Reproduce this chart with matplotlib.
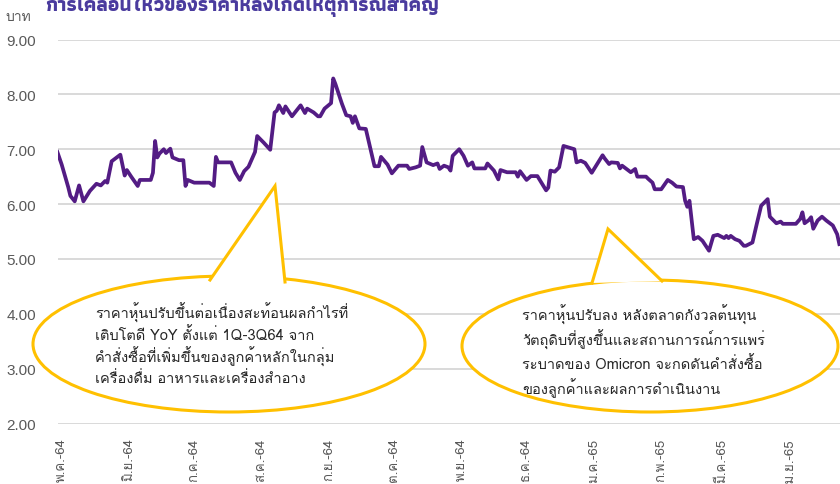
import numpy as np
import pandas as pd
import matplotlib
matplotlib.use('agg')
import matplotlib.pyplot as plt
from matplotlib.patches import Ellipse, Polygon

# data (days since 1 May 2021, price in baht)
day = [-2, 0, 3, 4, 6, 8, 10, 13, 16, 18, 20, 21, 23, 27, 29, 30, 32, 35, 36, 41,
       42, 43, 44, 45, 47, 48, 50, 51, 54, 56, 57, 58, 61, 68, 70, 71, 72, 78, 80, 82,
       84, 86, 89, 90, 93, 96, 98, 99, 100, 102, 103, 106, 110, 112, 113, 116, 118, 119, 121, 124,
       125, 126, 129, 131, 133, 134, 135, 137, 140, 144, 146, 147, 150, 152, 155, 159, 160, 163, 165, 166,
       168, 171, 173, 174, 176, 178, 179, 180, 183, 185, 187, 189, 190, 195, 196, 199, 201, 202, 205, 209,
       210, 211, 214, 216, 219, 223, 224, 225, 227, 229, 231, 236, 237, 239, 241, 244, 249, 250, 252, 253,
       256, 257, 258, 262, 264, 265, 269, 270, 272, 273, 276, 279, 281, 283, 286, 287, 288, 289, 291, 293,
       295, 298, 300, 302, 305, 306, 307, 308, 310, 312, 314, 315, 318, 320, 322, 325, 326, 329, 331, 332,
       338, 340, 341, 342, 344, 345, 346, 348, 350, 352, 355, 357, 358]
price = [6.95, 6.72, 6.31, 6.15, 6.05, 6.34, 6.05, 6.24, 6.37, 6.34, 6.42, 6.39, 6.78, 6.90, 6.52, 6.62, 6.50, 6.33, 6.44, 6.44,
         6.57, 7.15, 6.85, 6.92, 7.00, 6.93, 7.01, 6.85, 6.80, 6.80, 6.33, 6.44, 6.39, 6.39, 6.33, 6.86, 6.76, 6.76, 6.57, 6.44,
         6.60, 6.68, 6.95, 7.24, 7.12, 6.99, 7.67, 7.70, 7.80, 7.66, 7.78, 7.60, 7.80, 7.66, 7.74, 7.67, 7.60, 7.60, 7.74, 7.84,
         8.29, 8.19, 7.83, 7.62, 7.60, 7.48, 7.60, 7.38, 7.37, 6.69, 6.69, 6.86, 6.72, 6.56, 6.70, 6.70, 6.64, 6.67, 6.70, 7.04,
         6.76, 6.71, 6.74, 6.64, 6.70, 6.67, 6.61, 6.88, 7.00, 6.88, 6.70, 6.76, 6.65, 6.65, 6.74, 6.61, 6.45, 6.62, 6.58, 6.58,
         6.50, 6.60, 6.44, 6.51, 6.51, 6.25, 6.30, 6.61, 6.59, 6.67, 7.06, 7.00, 6.76, 6.79, 6.75, 6.57, 6.89, 6.83, 6.73, 6.76,
         6.75, 6.65, 6.70, 6.58, 6.64, 6.50, 6.50, 6.46, 6.39, 6.27, 6.27, 6.44, 6.39, 6.32, 6.31, 6.06, 5.95, 6.06, 5.36, 5.40,
         5.33, 5.15, 5.42, 5.44, 5.38, 5.42, 5.38, 5.42, 5.36, 5.33, 5.24, 5.24, 5.30, 5.64, 5.97, 6.09, 5.77, 5.65, 5.68, 5.64,
         5.64, 5.73, 5.85, 5.65, 5.71, 5.76, 5.55, 5.70, 5.77, 5.70, 5.61, 5.45, 5.27]

month_labels = ['พ.ค.-64', 'มิ.ย.-64', 'ก.ค.-64', 'ส.ค.-64', 'ก.ย.-64', 'ต.ค.-64',
                'พ.ย.-64', 'ธ.ค.-64', 'ม.ค.-65', 'ก.พ.-65', 'มี.ค.-65', 'เม.ย.-65']
title = 'การเคลื่อนไหวของราคาหลังเกิดเหตุการณ์สำคัญ'
note1 = ['ราคาหุ้นปรับขึ้นต่อเนื่องสะท้อนผลกำไรที่',
         'เติบโตดี YoY ตั้งแต่ 1Q-3Q64 จาก',
         'คำสั่งซื้อที่เพิ่มขึ้นของลูกค้าหลักในกลุ่ม',
         'เครื่องดื่ม อาหารและเครื่องสำอาง']
note2 = ['ราคาหุ้นปรับลง หลังตลาดกังวลต้นทุน',
         'วัตถุดิบที่สูงขึ้นและสถานการณ์การแพร่',
         'ระบาดของ Omicron จะกดดันคำสั่งซื้อ',
         'ของลูกค้าและผลการดำเนินงาน']

plt.rcParams['font.family'] = ['Loma', 'DejaVu Sans']

start = pd.Timestamp('2021-05-01')
dates = start + pd.to_timedelta(day, unit='D')
ticks = pd.date_range('2021-05-01', periods=len(month_labels), freq='MS')
yvals = np.arange(2, 9.5, 1)

W, H = 840, 485
fig = plt.figure(figsize=(W / 100, H / 100), dpi=100)
ax = fig.add_axes([58 / W, 60.5 / H, 782 / W, 384 / H])
ax.plot(dates, price, color='#531c84', lw=2.7, solid_joinstyle='round', zorder=3)
ax.set_ylim(2, 9)
ax.set_yticks(yvals)
ax.set_yticklabels(['%.2f' % v for v in yvals], family=['Liberation Sans', 'DejaVu Sans'])
ax.set_xlim(start - pd.Timedelta(days=1.7), start + pd.Timedelta(days=358.3))
ax.set_xticks(ticks)
ax.set_xticklabels(month_labels, rotation=90, va='top', ha='center')
ax.grid(axis='y', color='#d9d9d9', lw=1.4)
ax.set_axisbelow(True)
for s in ax.spines.values():
    s.set_visible(False)
ax.tick_params(axis='both', length=0, colors='#595959')
ax.tick_params(axis='y', pad=16, labelsize=11)
ax.tick_params(axis='x', pad=10, labelsize=9.5)

fig.text(5 / W, 1 - 18 / H, 'บาท', fontsize=10, color='#595959', va='center', ha='left')
fig.text(242 / W, 1 - 11 / H, title, fontsize=14.5, color='#4a3b9e', weight='bold',
         family=['Athiti', 'Loma', 'DejaVu Sans'], ha='center', va='baseline')

# overlay in figure pixels for the callouts
ov = fig.add_axes([0, 0, 1, 1], facecolor='none')
ov.set_xlim(0, W)
ov.set_ylim(H, 0)
ov.axis('off')
yellow = '#ffc000'


def callout(cx, cy, w, h, base, apex, lines, x0, y0, dy, fs):
    ov.add_patch(Ellipse((cx, cy), w, h, facecolor='white', edgecolor=yellow, lw=2.2, zorder=5))
    ov.add_patch(Polygon([base[0], apex, base[1]], closed=True, facecolor='white',
                         edgecolor='none', zorder=6))
    ov.plot([base[0][0], apex[0], base[1][0]], [base[0][1], apex[1], base[1][1]],
            color=yellow, lw=2.2, zorder=7, solid_joinstyle='miter')
    for i, t in enumerate(lines):
        ov.text(x0, y0 + i * dy, t, fontsize=fs, color='#262626', va='center', ha='left', zorder=8)


callout(229, 345, 392, 136, [(210, 281), (285, 283)], (275, 187), note1, 95, 313, 22, 10.5)
callout(650, 347, 376, 132, [(592, 284), (662, 282)], (608, 230), note2, 522, 315, 24.5, 10.5)

fig.savefig('out.png', dpi=100)
